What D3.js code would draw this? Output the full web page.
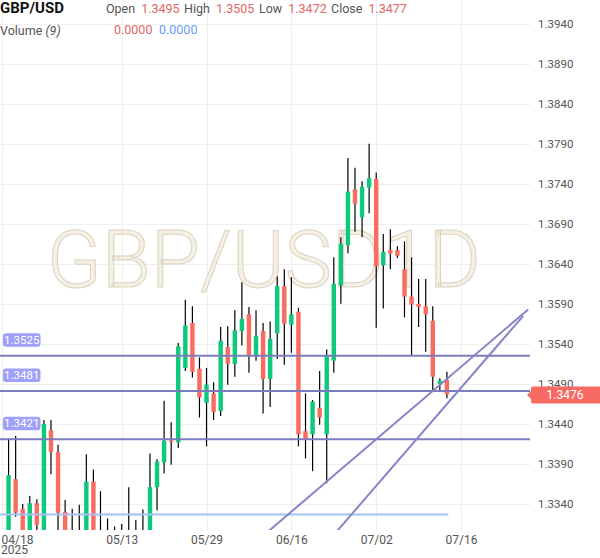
<!DOCTYPE html>
<html>
<head>
<meta charset="utf-8">
<script src="https://cdn.jsdelivr.net/npm/d3@7"></script>
<style>
  body { margin: 0; background: #fff; }
  svg { display: block; font-family: Roboto, sans-serif; }
</style>
</head>
<body>
<svg width="600" height="558"></svg>
<script>
// day labels on the time axis (bar index of each)
const dayLabels = ['04/18', '05/13', '05/29', '06/16', '07/02', '07/16'];
const dayIndex = [0, 17, 29, 41, 53, 65];
const priceTicks = [1.3940, 1.3890, 1.3840, 1.3790, 1.3740, 1.3690, 1.3640,
  1.3590, 1.3540, 1.3490, 1.3440, 1.3390, 1.3340];

// daily bars, index 1..63
const opens = [1.3289, 1.3371, 1.3334, 1.3295, 1.3341, 1.3300, 1.3432, 1.3405, 1.3330, 1.3300,
  1.3295, 1.3295, 1.3368, 1.3298, 1.3290, 1.3300, 1.3292, 1.3300, 1.3293, 1.3298,
  1.3300, 1.3361, 1.3392, 1.3419, 1.3417, 1.3510, 1.3566, 1.3509, 1.3466, 1.3478,
  1.3456, 1.3536, 1.3515, 1.3556, 1.3577, 1.3526, 1.3556, 1.3496, 1.3553, 1.3612,
  1.3564, 1.3580, 1.3431, 1.3427, 1.3460, 1.3427, 1.3519, 1.3613, 1.3663, 1.3733,
  1.3698, 1.3735, 1.3746, 1.3638, 1.3657, 1.3657, 1.3633, 1.3599, 1.3590, 1.3587,
  1.3569, 1.3490, 1.3495];
const highs = [1.3422, 1.3425, 1.3340, 1.3350, 1.3346, 1.3445, 1.3445, 1.3414, 1.3345, 1.3334,
  1.3339, 1.3402, 1.3383, 1.3356, 1.3322, 1.3312, 1.3315, 1.3361, 1.3320, 1.3333,
  1.3403, 1.3396, 1.3469, 1.3442, 1.3541, 1.3595, 1.3587, 1.3523, 1.3510, 1.3492,
  1.3561, 1.3562, 1.3582, 1.3617, 1.3586, 1.3582, 1.3566, 1.3568, 1.3624, 1.3633,
  1.3623, 1.3585, 1.3478, 1.3470, 1.3506, 1.3533, 1.3648, 1.3673, 1.3772, 1.3760,
  1.3743, 1.3790, 1.3754, 1.3677, 1.3683, 1.3662, 1.3668, 1.3648, 1.3621, 1.3621,
  1.3587, 1.3497, 1.3505];
const lows = [1.3270, 1.3324, 1.3280, 1.3285, 1.3295, 1.3290, 1.3377, 1.3295, 1.3290, 1.3285,
  1.3285, 1.3285, 1.3280, 1.3282, 1.3280, 1.3280, 1.3285, 1.3285, 1.3283, 1.3288,
  1.3290, 1.3332, 1.3378, 1.3389, 1.3410, 1.3506, 1.3498, 1.3448, 1.3412, 1.3445,
  1.3450, 1.3489, 1.3499, 1.3538, 1.3504, 1.3519, 1.3453, 1.3461, 1.3521, 1.3514,
  1.3529, 1.3412, 1.3397, 1.3381, 1.3439, 1.3366, 1.3504, 1.3590, 1.3653, 1.3680,
  1.3673, 1.3703, 1.3560, 1.3584, 1.3633, 1.3647, 1.3573, 1.3525, 1.3561, 1.3530,
  1.3480, 1.3481, 1.3472];
const closes = [1.3376, 1.3329, 1.3290, 1.3341, 1.3314, 1.3440, 1.3405, 1.3329, 1.3300, 1.3295,
  1.3302, 1.3368, 1.3290, 1.3292, 1.3300, 1.3290, 1.3303, 1.3295, 1.3301, 1.3304,
  1.3361, 1.3393, 1.3419, 1.3417, 1.3537, 1.3563, 1.3505, 1.3473, 1.3489, 1.3455,
  1.3544, 1.3515, 1.3557, 1.3571, 1.3525, 1.3550, 1.3496, 1.3546, 1.3612, 1.3565,
  1.3577, 1.3427, 1.3421, 1.3468, 1.3448, 1.3525, 1.3615, 1.3665, 1.3730, 1.3715,
  1.3736, 1.3747, 1.3637, 1.3655, 1.3653, 1.3650, 1.3599, 1.3589, 1.3586, 1.3577,
  1.3499, 1.3494, 1.3477];

// drawn levels and trend lines
const levels = [1.3525, 1.3481, 1.3421];
const blueLevel = 1.3327, blueFrom = -1, blueTo = 63.2;
const trendStarts = [[37.1, 1.3301], [46.96, 1.3301]];
const trendEnds = [[74.5, 1.3583], [73.8, 1.3575]];
const lastPrice = 1.3476;

const plotRight = 530, plotBottom = 530;
const green = '#0ec97b', red = '#fa6b60', lineColor = '#7b7bbd';

const svg = d3.select('svg');
const x = d3.scaleLinear().domain([0, 65]).range([1.5, 461.05]);
const y = d3.scaleLinear().domain([1.3940, 1.3340]).range([23.5, 504]);

svg.append('defs').append('clipPath').attr('id', 'plot')
  .append('rect').attr('x', 0).attr('y', 0).attr('width', plotRight).attr('height', plotBottom);

// grid
const grid = svg.append('g').attr('stroke', '#efefef').attr('stroke-width', 1);
grid.selectAll('.h').data(priceTicks).enter().append('line')
  .attr('x1', 0).attr('x2', plotRight)
  .attr('y1', d => Math.round(y(d)) + 0.5).attr('y2', d => Math.round(y(d)) + 0.5);
grid.selectAll('.v').data(dayIndex).enter().append('line')
  .attr('y1', 0).attr('y2', plotBottom)
  .attr('x1', d => Math.round(x(d)) + 0.5).attr('x2', d => Math.round(x(d)) + 0.5);

// watermark
svg.append('text')
  .attr('x', 264).attr('y', 287)
  .attr('text-anchor', 'middle')
  .attr('font-size', 80).attr('font-weight', 300)
  .attr('fill', '#f4f0e6').attr('stroke', '#dcd3bd').attr('stroke-width', 1)
  .text('GBP/USD1D');

const plot = svg.append('g').attr('clip-path', 'url(#plot)');

// candles
const bars = opens.map((o, k) => ({ i: k + 1, o, h: highs[k], l: lows[k], c: closes[k] }));
const candle = plot.selectAll('.candle').data(bars).enter().append('g');
candle.append('line')
  .attr('x1', d => x(d.i)).attr('x2', d => x(d.i))
  .attr('y1', d => y(d.h)).attr('y2', d => y(d.l))
  .attr('stroke', '#000').attr('stroke-width', 1.2);
candle.append('rect')
  .attr('x', d => x(d.i) - 2.2).attr('width', 4.4)
  .attr('y', d => y(Math.max(d.o, d.c)))
  .attr('height', d => Math.max(1.5, Math.abs(y(d.o) - y(d.c))))
  .attr('fill', d => d.c >= d.o ? green : red);

// light blue level
plot.append('line')
  .attr('x1', x(blueFrom)).attr('x2', x(blueTo))
  .attr('y1', y(blueLevel)).attr('y2', y(blueLevel))
  .attr('stroke', '#a3c0f0').attr('stroke-width', 2);

// horizontal levels
plot.selectAll('.lvl').data(levels).enter().append('line')
  .attr('x1', 0).attr('x2', plotRight)
  .attr('y1', d => y(d)).attr('y2', d => y(d))
  .attr('stroke', lineColor).attr('stroke-width', 2);

// trend lines
plot.selectAll('.trend').data(trendStarts).enter().append('line')
  .attr('x1', d => x(d[0])).attr('y1', d => y(d[1]))
  .attr('x2', (d, k) => x(trendEnds[k][0])).attr('y2', (d, k) => y(trendEnds[k][1]))
  .attr('stroke', '#8585c8').attr('stroke-width', 2);

// level badges
const badge = svg.selectAll('.badge').data(levels).enter().append('g')
  .attr('transform', d => `translate(3,${y(d) - 22.5})`);
badge.append('rect').attr('width', 37.5).attr('height', 13.5).attr('rx', 3)
  .attr('fill', '#9fa0fa');
badge.append('text').attr('x', 18.75).attr('y', 10.5)
  .attr('text-anchor', 'middle').attr('font-size', 11.5).attr('fill', '#fff')
  .text(d => d.toFixed(4));

// right axis
const yAxis = d3.axisRight(y).tickValues(priceTicks).tickFormat(d3.format('.4f'))
  .tickSize(0).tickPadding(0);
const ya = svg.append('g').attr('transform', 'translate(538,0)').call(yAxis);
ya.select('.domain').remove();
ya.selectAll('text').attr('fill', '#555').attr('font-size', 11.5).attr('font-family', 'Roboto, sans-serif');

// bottom axis
const xAxis = d3.axisBottom(x).tickValues(dayIndex)
  .tickFormat((d, k) => dayLabels[k]).tickSize(0).tickPadding(5);
const xa = svg.append('g').attr('transform', `translate(0,${plotBottom})`).call(xAxis);
xa.select('.domain').remove();
xa.selectAll('text').attr('fill', '#555').attr('font-size', 12).attr('font-family', 'Roboto, sans-serif');
xa.selectAll('text').filter((d, k) => k === 0).attr('text-anchor', 'start').attr('x', -0.5);
svg.append('text').attr('x', 1).attr('y', 554).attr('fill', '#555').attr('font-size', 12).text('2025');

// last price badge
const ly = y(lastPrice);
svg.append('path')
  .attr('d', `M527,${ly} L531,${ly - 4} L531,${ly - 6.5} Q531,${ly - 8.5} 533,${ly - 8.5} L600,${ly - 8.5} L600,${ly + 8.5} L533,${ly + 8.5} Q531,${ly + 8.5} 531,${ly + 6.5} L531,${ly + 4} Z`)
  .attr('fill', '#f76b62');
svg.append('text').attr('x', 565).attr('y', ly + 4.2).attr('text-anchor', 'middle')
  .attr('font-size', 12).attr('fill', '#fff').text(lastPrice.toFixed(4));

// header
const hdr = svg.append('g').attr('font-size', 12.5);
hdr.append('text').attr('x', 0).attr('y', 13).attr('font-size', 15).attr('font-weight', 700)
  .attr('fill', '#111').text('GBP/USD');
const ohlc = [['Open', opens[62], 106], ['High', highs[62], 184], ['Low', lows[62], 259], ['Close', closes[62], 331]];
ohlc.forEach(([name, v, px]) => {
  const t = hdr.append('text').attr('x', px).attr('y', 13);
  t.append('tspan').attr('fill', '#555').text(name);
  t.append('tspan').attr('fill', '#e06666').attr('dx', 6).text(v.toFixed(4));
});
const vol = hdr.append('text').attr('x', 0).attr('y', 35).attr('fill', '#555');
vol.append('tspan').text('Volume ');
vol.append('tspan').attr('font-style', 'italic').text('(9)');
hdr.append('text').attr('x', 114).attr('y', 34).attr('fill', '#e06666').text('0.0000');
hdr.append('text').attr('x', 159).attr('y', 34).attr('fill', '#6a9cf2').text('0.0000');
</script>
</body>
</html>
